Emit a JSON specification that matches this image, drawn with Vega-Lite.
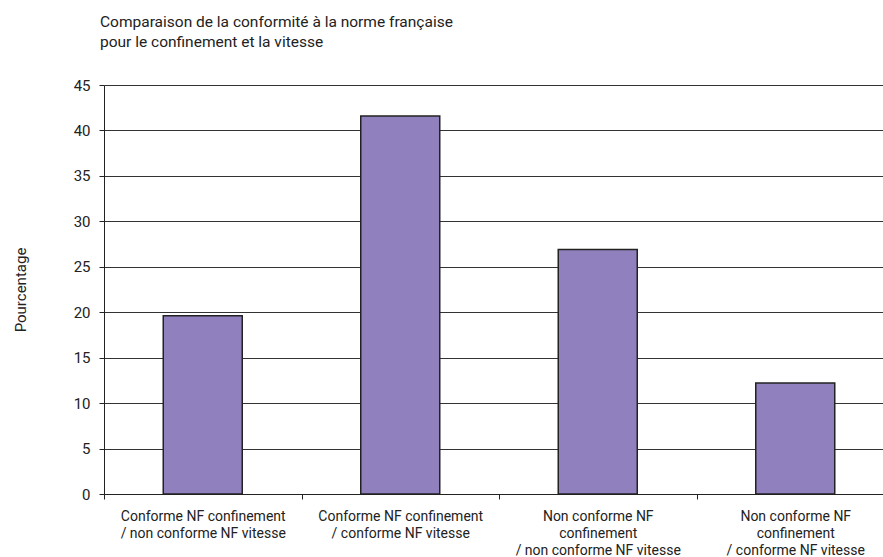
{
  "$schema": "https://vega.github.io/schema/vega-lite/v6.json",
  "width": 790,
  "height": 409,
  "autosize": {"type": "none"},
  "padding": {"left": 104, "top": 85, "right": 0, "bottom": 63},
  "background": "white",
  "title": {
    "text": ["Comparaison de la conformité à la norme française", "pour le confinement et la vitesse"],
    "anchor": "start",
    "frame": "group",
    "dx": -4,
    "offset": 28,
    "fontSize": 15.5,
    "lineHeight": 20,
    "font": "Roboto",
    "fontWeight": "normal",
    "color": "#222222"
  },
  "config": {
    "view": {"stroke": null},
    "font": "Roboto"
  },
  "data": {
    "values": [
      {"categorie": "Conforme NF confinement|/ non conforme NF vitesse", "pourcentage": 19.6},
      {"categorie": "Conforme NF confinement|/ conforme NF vitesse", "pourcentage": 41.6},
      {"categorie": "Non conforme NF|confinement|/ non conforme NF vitesse", "pourcentage": 26.9},
      {"categorie": "Non conforme NF|confinement|/ conforme NF vitesse", "pourcentage": 12.2}
    ]
  },
  "mark": {"type": "bar", "width": {"band": 0.4}, "color": "#9080bd", "stroke": "#222222", "strokeWidth": 1.5},
  "encoding": {
    "x": {
      "field": "categorie",
      "type": "nominal",
      "sort": null,
      "scale": {"paddingInner": 0, "paddingOuter": 0},
      "axis": {
        "title": null,
        "labelAngle": 0,
        "labelExpr": "split(datum.label, '|')",
        "labelFontSize": 14,
        "labelLineHeight": 17,
        "labelColor": "#222222",
        "labelPadding": 10,
        "labelBaseline": "top",
        "tickBand": "extent",
        "tickSize": 5,
        "tickColor": "#222222",
        "domainColor": "#222222",
        "grid": false,
        "labelFont": "Roboto"
      }
    },
    "y": {
      "field": "pourcentage",
      "type": "quantitative",
      "scale": {"domain": [0, 45], "nice": false},
      "axis": {
        "title": "Pourcentage",
        "titleFontSize": 15,
        "titleFontWeight": "normal",
        "titleColor": "#222222",
        "titleX": -76,
        "titleY": 204.5,
        "values": [0, 5, 10, 15, 20, 25, 30, 35, 40, 45],
        "labelFontSize": 15,
        "labelColor": "#222222",
        "labelPadding": 9,
        "tickSize": 5,
        "tickColor": "#222222",
        "domainColor": "#222222",
        "grid": true,
        "gridColor": "#333333",
        "gridWidth": 1,
        "gridOpacity": 1
      }
    }
  }
}
